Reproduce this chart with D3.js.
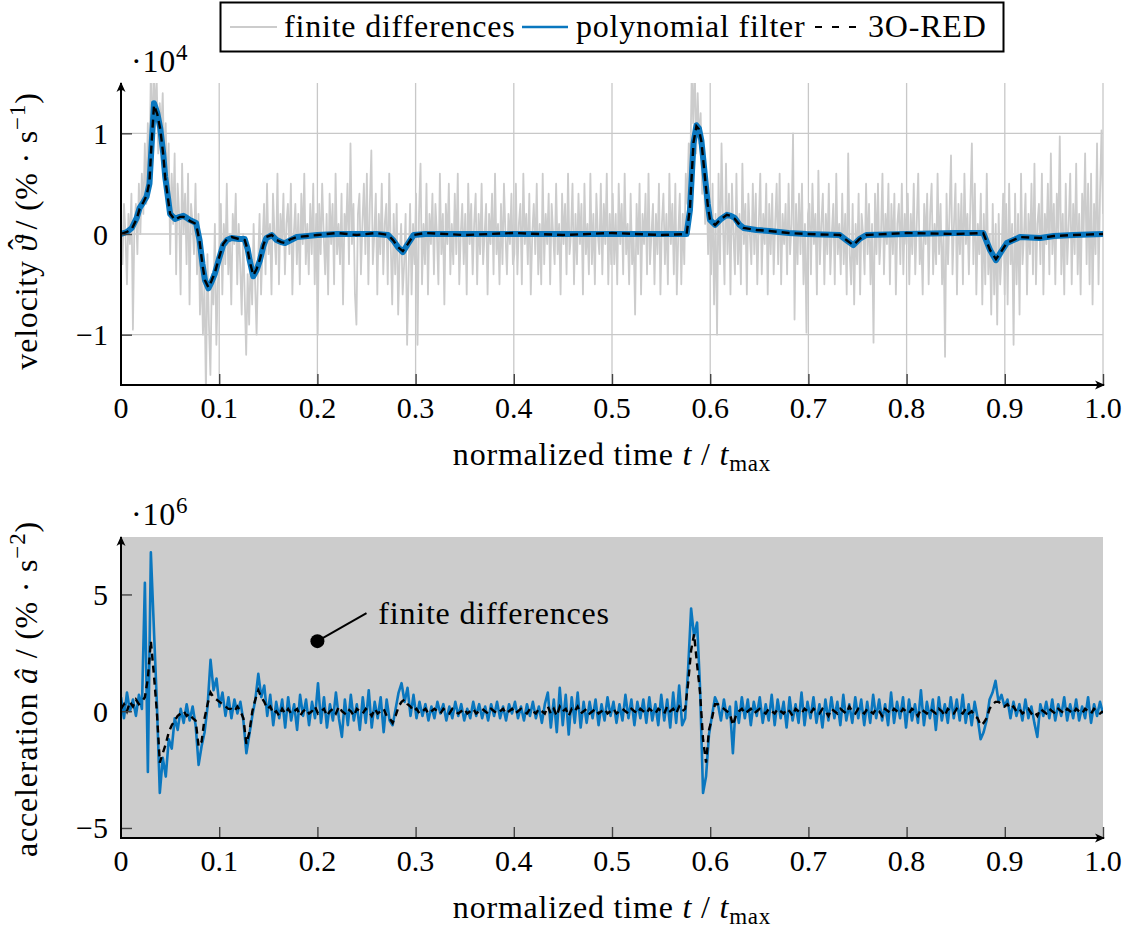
<!DOCTYPE html>
<html>
<head>
<meta charset="utf-8">
<script src="https://d3js.org/d3.v7.min.js"></script>
<style>
  body { margin: 0; background: #fff; }
  text { font-family: "Liberation Serif", "Times New Roman", serif; fill: #000; }
  .lbl { font-size: 32px; letter-spacing: 0.8px; }
  .tick-lbl { font-size: 30px; }
</style>
</head>
<body>
<div id="chart"></div>
<script>
// ---- data (velocity in 1e4 %/s, acceleration in 1e6 %/s^2) ----
// raw finite differences of velocity, evenly sampled over t = 0..1
var velFinite = [
  0.1,-0.3,0.3,0.0,-0.5,0.2,-0.1,0.4,-0.95,0.1,0.3,-0.2,0.5,0.0,
  0.6,0.2,0.9,0.3,1.1,0.5,
  1.6,0.9,1.7,1.2,1.5,0.8,1.3,1.0,1.4,0.7,1.1,
  0.4,0.9,-0.2,0.6,0.1,0.8,-0.4,0.5,0.2,-0.6,0.7,0.0,0.4,-0.3,0.6,-0.7,0.3,0.1,-0.2,0.5,
  -0.4,0.2,-0.8,-0.3,-1.0,-0.5,-1.6,-0.2,-0.9,-1.4,-0.4,-0.7,0.1,-1.1,-0.5,
  // 0.1 - 0.2
  -0.2,0.3,-0.6,0.1,-0.3,0.5,-0.4,0.0,-0.7,0.2,-0.1,0.4,-0.5,0.1,
  -0.3,-0.8,0.0,-0.6,-1.2,-0.4,-0.9,-0.2,-0.7,0.1,-0.5,-1.0,-0.3,0.2,-0.6,-0.1,
  0.3,-0.4,0.5,-0.2,0.1,-0.6,0.4,0.0,-0.3,0.6,-0.5,0.2,-0.1,0.4,-0.4,0.1,0.3,-0.2,0.5,-0.6,
  0.0,0.3,-0.3,0.2,-0.5,0.4,-0.1,0.6,-0.3,0.1,-0.4,0.3,-0.2,0.5,-0.5,0.2,
  // 0.2 - 0.3
  -1.0,0.3,-0.2,0.5,0.0,-0.4,0.2,-0.6,0.4,-0.1,
  0.3,-0.5,0.6,-0.2,0.1,-0.3,0.4,-0.7,0.2,0.0,
  0.5,-0.3,0.9,-0.1,0.3,-0.6,-0.9,0.2,0.4,-0.4,
  0.1,0.5,-0.2,0.6,-0.5,0.3,0.83,-0.3,0.0,0.4,
  -0.6,0.2,-0.2,0.5,-0.4,0.1,0.3,-0.5,0.6,-0.1,
  -0.7,0.2,-0.4,0.3,-0.8,-0.2,0.1,-0.6,-0.3,0.2,
  -1.1,-0.4,0.3,-0.6,0.1,-0.3,
  // 0.3 - 0.4
  0.4,-1.1,0.2,0.7,-0.5,0.1,-0.3,0.5,-0.6,0.2,
  -0.1,0.4,-0.4,0.3,0.0,-0.5,0.6,-0.2,0.2,-0.7,
  0.3,-0.1,0.5,-0.4,0.1,-0.3,0.4,-0.2,0.6,-0.5,
  0.0,0.3,-0.3,0.2,-0.6,0.5,-0.1,0.3,-0.4,0.1,
  0.4,-0.5,0.2,-0.2,0.5,-0.3,0.0,0.3,-0.6,0.2,
  -0.1,0.4,-0.4,0.6,-0.2,0.1,-0.5,0.3,-0.3,0.5,
  0.0,-0.4,0.2,-0.1,0.4,-0.3,
  // 0.4 - 0.5
  -0.2,0.5,-0.4,0.1,0.3,-0.5,0.6,-0.1,0.2,-0.3,
  0.4,-0.6,0.0,0.3,-0.2,0.5,-0.4,0.1,-0.5,0.6,
  -0.3,0.2,-0.1,0.4,-0.5,0.3,0.0,-0.3,0.5,-0.2,
  0.1,-0.6,0.4,-0.1,0.3,-0.4,0.6,-0.2,0.0,0.5,
  -0.5,0.2,-0.3,0.4,-0.1,0.3,-0.6,0.5,-0.2,0.1,
  -0.4,0.6,-0.3,0.2,-0.5,0.4,0.0,-0.2,0.5,-0.4,
  0.3,-0.1,0.6,-0.5,0.2,-0.3,
  // 0.5 - 0.6
  0.4,-0.3,0.2,-0.5,0.5,-0.1,0.3,-0.4,0.6,-0.2,
  0.1,-0.5,0.4,-0.3,0.0,-0.8,0.3,-0.2,0.5,-0.6,
  0.2,-0.1,0.4,-0.4,0.6,-0.3,0.0,0.3,-0.5,0.2,
  -0.2,0.5,-0.6,0.1,0.4,-0.3,0.2,-0.5,0.6,-0.1,
  0.3,-0.4,0.5,-0.6,0.0,0.4,-0.5,0.2,-0.3,0.6,
  0.3,0.9,0.6,1.6,1.1,1.7,0.8,1.4,0.9,1.2,0.4,0.8,0.1,0.5,-0.2,0.3,
  // 0.6 - 0.7
  -0.4,0.5,-0.7,0.2,-1.0,0.6,-0.3,0.9,0.1,-0.5,
  0.7,-0.2,0.4,-0.6,0.5,0.0,-0.4,0.6,-0.3,0.2,
  -0.5,0.7,-0.1,0.3,-0.6,0.4,0.0,-0.3,0.5,-0.2,
  0.4,-0.5,0.1,0.6,-0.4,0.2,-0.1,0.5,-0.6,0.3,
  -0.2,0.4,-0.4,0.1,0.5,-0.3,0.6,-0.5,0.2,-0.1,
  0.3,-0.4,0.5,-0.2,0.1,1.0,-0.85,0.3,-0.3,0.4,
  -0.2,0.5,-0.5,0.1,-0.98,0.2,
  // 0.7 - 0.8
  0.3,-0.4,0.5,-0.1,0.2,-0.6,0.63,-0.3,0.1,0.4,
  -0.5,0.2,-0.2,0.5,-0.4,0.0,0.3,-0.5,0.6,-0.2,
  0.1,-0.4,0.4,-0.3,0.2,-0.6,0.8,-0.2,-0.5,0.3,
  -0.7,0.1,-0.3,0.4,-0.6,0.2,0.0,-0.4,0.5,-0.2,
  0.3,-0.5,0.1,-1.08,0.4,-0.2,0.5,-0.3,0.0,0.6,
  -0.4,0.2,-0.1,0.5,-0.5,0.3,-0.2,0.4,-0.6,0.1,
  0.3,-0.3,0.5,-0.4,0.2,-0.1,
  // 0.8 - 0.9
  0.4,-0.5,0.2,-0.2,0.5,-0.4,0.1,0.6,-0.3,0.0,
  -0.6,0.3,-0.1,0.4,-0.5,0.2,0.5,-0.4,0.1,-0.3,
  0.6,-0.2,0.3,-0.5,0.0,-1.22,0.4,-0.3,0.2,0.78,
  -0.4,0.1,0.5,-0.6,0.3,-0.2,0.4,-0.5,0.6,-0.1,
  0.2,-0.4,0.3,0.9,-0.3,0.5,-0.6,0.1,-0.2,0.4,
  -0.7,0.2,-0.5,0.6,-0.4,0.0,-0.8,0.3,-0.6,0.1,
  -0.9,0.2,-0.5,-0.2,0.4,-0.6,
  // 0.9 - 1.0
  0.3,-0.7,0.5,-0.3,0.1,-1.1,0.4,-0.5,0.2,-0.8,
  0.6,-0.3,0.0,0.4,-0.6,0.2,-0.2,0.5,-0.4,0.7,
  -0.5,0.1,0.3,-0.3,0.6,-0.6,0.2,-0.1,0.5,-0.4,
  0.8,-0.2,0.3,-0.5,0.4,0.0,0.97,-0.4,0.2,-0.6,
  0.5,-0.3,0.1,0.6,-0.5,0.3,-0.2,0.7,-0.4,0.2,
  -0.6,0.4,0.0,0.8,-0.3,0.5,-0.5,0.6,-0.7,0.3,
  -0.2,0.9,-0.5,0.4,1.03,0.2
];

// filtered velocity: sample times and values
var velT = [0, 0.006, 0.011, 0.016, 0.019, 0.023, 0.026, 0.029, 0.031, 0.0336, 0.037, 0.040, 0.043, 0.045, 0.048, 0.050,
  0.055, 0.060, 0.0635, 0.067, 0.070, 0.0764, 0.080, 0.083, 0.0855, 0.089, 0.092, 0.0957, 0.100, 0.104, 0.108, 0.1127,
  0.120, 0.126, 0.129, 0.131, 0.1347, 0.138, 0.1415, 0.145, 0.148, 0.1535, 0.1585, 0.163, 0.167, 0.173, 0.179, 0.190,
  0.200, 0.220, 0.240, 0.260, 0.272, 0.277, 0.282, 0.287, 0.292, 0.298, 0.310, 0.350, 0.400, 0.450, 0.500, 0.550,
  0.576, 0.5794, 0.583, 0.586, 0.5885, 0.591, 0.5947, 0.5975, 0.5998, 0.605, 0.611, 0.617, 0.621, 0.625, 0.630, 0.634,
  0.647, 0.660, 0.680, 0.698, 0.732, 0.740, 0.7457, 0.752, 0.759, 0.800, 0.850, 0.878, 0.885, 0.891, 0.896, 0.902,
  0.9155, 0.936, 0.950, 0.970, 1.0];
var velPoly = [0, 0.02, 0.06, 0.16, 0.26, 0.32, 0.37, 0.5, 0.85, 1.30, 1.2, 1.05, 0.8, 0.57, 0.35, 0.2,
  0.15, 0.17, 0.18, 0.16, 0.14, 0.11, -0.06, -0.3, -0.46, -0.54, -0.48, -0.39, -0.24, -0.11, -0.06, -0.04,
  -0.05, -0.05, -0.15, -0.26, -0.42, -0.36, -0.26, -0.12, -0.04, -0.01, -0.06, -0.08, -0.09, -0.06, -0.03, -0.02,
  -0.01, 0, 0, 0, -0.01, -0.06, -0.13, -0.18, -0.1, -0.01, 0, 0, 0, 0, 0, 0,
  0, 0.24, 0.9, 1.08, 1.05, 0.93, 0.57, 0.3, 0.14, 0.09, 0.15, 0.19, 0.18, 0.16, 0.09, 0.06,
  0.04, 0.03, 0.01, 0, -0.01, -0.07, -0.11, -0.05, -0.01, 0, 0.01, 0.01, -0.16, -0.26, -0.18, -0.09,
  -0.03, -0.04, -0.02, -0.01, 0];
var velRed = [0, 0.02, 0.05, 0.15, 0.25, 0.32, 0.38, 0.52, 0.88, 1.28, 1.19, 1.04, 0.79, 0.56, 0.34, 0.2,
  0.14, 0.17, 0.17, 0.16, 0.13, 0.1, -0.07, -0.31, -0.46, -0.53, -0.47, -0.38, -0.23, -0.1, -0.05, -0.03,
  -0.05, -0.06, -0.16, -0.27, -0.41, -0.35, -0.25, -0.11, -0.03, -0.01, -0.06, -0.08, -0.09, -0.05, -0.03, -0.02,
  -0.01, 0.01, -0.01, 0.01, -0.01, -0.06, -0.13, -0.17, -0.1, -0.01, 0.01, -0.01, 0.01, -0.01, 0.01, -0.01,
  0, 0.26, 0.91, 1.07, 1.04, 0.92, 0.56, 0.29, 0.14, 0.09, 0.15, 0.19, 0.18, 0.15, 0.09, 0.06,
  0.04, 0.03, 0.01, 0, -0.01, -0.07, -0.11, -0.05, -0.01, 0.01, 0, 0.01, -0.16, -0.25, -0.18, -0.09,
  -0.03, -0.04, -0.02, -0.01, 0];

// acceleration, polynomial filter, evenly sampled over t = 0..1
var accPoly = [
  0.6, -0.3, 0.8, 0.0, 0.5, -0.2, 0.7, 0.1,
  5.5, -2.6, 6.8, 3.6, 0.4, -3.5, -2.0, -2.8,
  -1.2, -1.6, -0.3, -0.8, 0.1, -0.5, 0.3, -0.4,
  0.2, -0.6, -2.3, -1.5, -0.9, 0.2, 2.2, 0.9,
  1.4, 0.2, 0.8, -0.2, 0.6, -0.3, 0.5, -0.1,
  0.4, -0.4, -1.8, -1.0, -0.2, 0.5, 1.6, 0.6,
  1.1, -0.2, 0.7, -0.6, 0.4, -0.3, 0.5, -0.7,
  0.6, -0.4, 0.3, -0.8, 0.7, -0.2, 0.5, -0.6, 0.4, -0.3, 1.2, -0.5, 0.6, -0.7, 0.3, -0.4, 0.8, -0.3, -1.1, 0.5,
  -0.6, 0.7, -0.4, 0.3, -0.8, 0.6, -0.5, 0.9, -0.7, 0.4, -0.3, 0.6, -0.9, 0.5, -0.4, -0.6, 0.1, 0.8, 1.2, 0.4, 1.0, -0.2, 0.7,
  -0.3, 0.4, -0.2, 0.3, -0.4, 0.2, -0.3, 0.4, -0.1, 0.3, -0.4, 0.2, -0.3, 0.4, -0.2, 0.3, -0.4, 0.1, -0.3, 0.4, -0.2, 0.3,
  -0.3, 0.2, -0.4, 0.3, -0.2, 0.4, -0.3, 0.2, -0.4, 0.3, -0.1, 0.4, -0.3, 0.2, -0.4, 0.3, -0.2, 0.4, -0.3, 0.2, -0.5, 0.3,
  0.8, -0.7, 0.5, -0.9, 1.0, -0.6, 0.7, -1.0, 0.6, -0.5, 0.8, -0.7, 0.4,
  -0.5, 0.4, -0.3, 0.5, -0.6, 0.3, -0.4, 0.6, -0.2, 0.4, -0.5, 0.3, -0.4, 0.7, -0.3, 0.5, -0.6, 0.4, -0.3, 0.5,
  -0.5, 0.6, -0.4, 0.3, -0.6, 0.7, -0.4, 0.5, -0.7, 0.8, -0.5, 1.1, -0.6,
  -0.3, 1.8, 4.4, 3.2, 3.8, 1.0, -3.5, -2.8, -1.0, -0.2, 0.6,
  0.3, -0.4, 0.5, -0.3, 0.2, -1.8, 0.4, -0.5, 0.6, -0.3,
  0.5, -0.6, 0.4, -0.2, 0.6, -0.5, 0.3, -0.4, 0.7, -0.6,
  0.5, -0.3, 0.4, -0.7, 0.6, -0.4, 0.3, -0.5, 0.8, -0.6,
  0.4, -0.3, 0.6, -0.5, 0.3, -0.7, 0.5, -0.4, 0.6, -0.3,
  0.4, -0.6, 0.7, -0.4, 0.3, -0.5, 0.6, -0.3, 0.5, -0.6,
  0.4, -0.5, 0.7, -0.3, 0.5, -0.4, 0.3, -0.6, 0.8, -0.5,
  0.4, -0.3, 0.6, -0.7, 0.5, -0.4, 0.3, -0.5, 0.9, -0.6,
  0.4, -0.3, 0.5, -0.8, 0.6, -0.4, 0.3, -0.5, 0.6, -0.3,
  0.5, -0.4, 0.7, -0.5, 0.3, -0.6, 0.4, -0.3, -1.2, -0.9,
  -0.4, 0.5, 0.8, 1.3, 0.4, 0.7, 0.2, 0.5, -0.3, 0.4,
  -0.2, 0.3, -0.4, 0.5, -0.3, 0.2, -0.5, -1.1, 0.3, -0.2,
  0.4, -0.3, 0.5, -0.4, 0.3, -0.2, 0.6, -0.4, 0.3, -0.3,
  0.5, -0.4, 0.2, -0.3, 0.6, -0.5, 0.3, -0.2, 0.4, -0.1
];

// acceleration, 3O-RED, evenly sampled over t = 0..1
var accRed = [
  0.1, 0.3, 0.0, 0.4, 0.2, 0.5, 0.3, 0.4,
  0.6, 1.4, 3.0, 1.6, 0.0, -2.2, -1.8, -1.4,
  -0.9, -0.6, -0.4, -0.2, -0.1, 0.0, -0.2, -0.1,
  -0.3, -0.4, -1.5, -1.3, -0.3, 0.3, 0.8, 0.6,
  0.5, 0.4, 0.3, 0.2, 0.1, 0.1, 0.0, 0.2,
  0.0, -0.3, -1.4, -0.9, 0.0, 0.5, 0.9, 0.6,
  0.4, 0.1, 0.2, -0.1, 0.0, -0.2, 0.1, -0.1,
  0.1, -0.1, 0.0, 0.1, -0.2, 0.0, 0.1, -0.1, 0.0, 0.2, -0.1, 0.0, 0.1, -0.2, 0.0, 0.1, -0.1, 0.2, 0.0, -0.1,
  0.1, 0.0, -0.2, 0.1, 0.0, -0.1, 0.1, 0.0, -0.2, 0.1, -0.1, 0.0, 0.1, -0.2, -0.3, -0.5, -0.2, 0.2, 0.4, 0.5, 0.3, 0.2, 0.0,
  0.1, -0.1, 0.0, 0.1, -0.1, 0.0, 0.1, 0.0, -0.1, 0.1, 0.0, -0.1, 0.1, 0.0, -0.1, 0.0, 0.1, -0.1, 0.0, 0.1, -0.1, 0.0,
  0.1, 0.0, -0.1, 0.1, 0.0, -0.1, 0.0, 0.1, -0.1, 0.0, 0.1, -0.1, 0.0, 0.1, 0.0, -0.1, 0.1, 0.0, -0.1, 0.1, 0.0, -0.1,
  0.2, -0.1, 0.1, -0.2, 0.2, 0.0, 0.1, -0.2, 0.1, 0.0, 0.2, -0.1, 0.0,
  0.1, -0.1, 0.0, 0.1, -0.1, 0.0, 0.1, -0.1, 0.0, 0.1, -0.1, 0.0, 0.1, 0.0, -0.1, 0.1, 0.0, -0.1, 0.1, 0.0,
  -0.1, 0.1, 0.0, -0.1, 0.1, 0.0, -0.1, 0.2, 0.0, 0.1, -0.1, 0.2, 0.0,
  0.1, 1.2, 2.6, 3.3, 2.0, 0.8, -1.2, -2.2, -0.8, -0.3, 0.3,
  0.3, 0.2, 0.1, 0.0, -0.1, -0.6, -0.2, 0.0, 0.1, -0.1,
  0.0, 0.1, -0.1, 0.0, 0.1, 0.0, -0.1, 0.1, 0.0, -0.1,
  0.1, 0.0, -0.1, 0.1, 0.0, -0.2, 0.1, 0.0, -0.1, 0.1,
  0.0, -0.1, 0.1, 0.0, -0.1, 0.1, 0.0, -0.2, 0.1, 0.0,
  -0.1, 0.1, 0.0, -0.1, 0.2, 0.0, -0.1, 0.1, 0.0, -0.1,
  0.1, 0.0, -0.1, 0.1, 0.0, -0.2, 0.1, 0.0, -0.1, 0.1,
  0.0, -0.1, 0.1, 0.0, -0.1, 0.1, 0.0, -0.2, 0.1, 0.0,
  -0.1, 0.1, 0.0, -0.1, 0.1, 0.0, -0.2, 0.1, 0.0, -0.1,
  0.1, 0.0, -0.1, 0.1, -0.1, 0.0, -0.2, -0.3, -0.6, -0.5,
  -0.3, 0.1, 0.3, 0.4, 0.4, 0.3, 0.2, 0.3, 0.1, 0.2,
  0.0, 0.1, -0.1, 0.0, 0.1, -0.1, 0.0, -0.2, 0.1, 0.0,
  -0.1, 0.1, 0.0, -0.1, 0.1, 0.0, -0.1, 0.1, 0.0, -0.1,
  0.1, 0.0, -0.1, 0.1, 0.0, -0.1, 0.1, 0.0, -0.1, 0.0
];

var xTicks = [0, 0.1, 0.2, 0.3, 0.4, 0.5, 0.6, 0.7, 0.8, 0.9, 1.0];
var xTickLabels = ["0", "0.1", "0.2", "0.3", "0.4", "0.5", "0.6", "0.7", "0.8", "0.9", "1.0"];
var velTicks = [-1, 0, 1];
var accTicks = [-5, 0, 5];
var legendNames = ["finite differences", "polynomial filter", "3O-RED"];

// ---- styles ----
var cGray = "#cccccc", cBlue = "#0a77bf", cGrid = "#c8c8c8";
var width = 1137, height = 931;

var svg = d3.select("#chart").append("svg")
  .attr("width", width).attr("height", height);

var defs = svg.append("defs");
defs.append("marker").attr("id", "arrow")
  .attr("viewBox", "0 0 10 10").attr("refX", 9).attr("refY", 5)
  .attr("markerWidth", 10).attr("markerHeight", 10)
  .attr("markerUnits", "userSpaceOnUse").attr("orient", "auto")
  .append("path").attr("d", "M0,0.5 Q4,5 0,9.5 L10,5 Z").attr("fill", "#000");

var x = d3.scaleLinear().domain([0, 1]).range([121, 1103]);
var yV = d3.scaleLinear().domain([-1.5, 1.5]).range([385, 83]);
var yA = d3.scaleLinear().domain([-5.43, 7.46]).range([838, 537]);

function clip(id, ys) {
  defs.append("clipPath").attr("id", id).append("rect")
    .attr("x", x(0)).attr("y", ys.range()[1])
    .attr("width", x(1) - x(0)).attr("height", ys.range()[0] - ys.range()[1]);
}
clip("clipV", yV);
clip("clipA", yA);

function evenLine(ys) {
  return d3.line()
    .x(function(d, i, arr) { return x(i / (arr.length - 1)); })
    .y(function(d) { return ys(d); });
}

// ================= top panel: velocity =================
var gV = svg.append("g");

// grid
gV.selectAll(".vgrid").data(xTicks.slice(1)).enter().append("line")
  .attr("x1", function(d) { return x(d); }).attr("x2", function(d) { return x(d); })
  .attr("y1", yV.range()[0]).attr("y2", yV.range()[1])
  .attr("stroke", cGrid).attr("stroke-width", 1.3);
gV.selectAll(".hgrid").data(velTicks).enter().append("line")
  .attr("x1", x(0)).attr("x2", x(1))
  .attr("y1", function(d) { return yV(d); }).attr("y2", function(d) { return yV(d); })
  .attr("stroke", cGrid).attr("stroke-width", 1.3);

var dV = gV.append("g").attr("clip-path", "url(#clipV)");
dV.append("path").datum(velFinite)
  .attr("d", evenLine(yV))
  .attr("fill", "none").attr("stroke", cGray).attr("stroke-width", 1.8)
  .attr("stroke-linejoin", "round");

var smoothLine = function(vals) {
  return d3.line()
    .x(function(d, i) { return x(velT[i]); })
    .y(function(d) { return yV(d); })(vals);
};
dV.append("path").attr("d", smoothLine(velPoly))
  .attr("fill", "none").attr("stroke", cBlue).attr("stroke-width", 6)
  .attr("stroke-linejoin", "round").attr("stroke-linecap", "round");
dV.append("path").attr("d", smoothLine(velRed))
  .attr("fill", "none").attr("stroke", "#000").attr("stroke-width", 2.4)
  .attr("stroke-dasharray", "8,5");

function axes(g, ys, ticks, yAx) {
  // y ticks
  g.append("g").attr("transform", "translate(" + x(0) + ",0)")
    .call(d3.axisRight(ys).tickValues(ticks).tickSize(11).tickFormat(""))
    .call(function(a) {
      a.select(".domain").remove();
      a.selectAll(".tick line").attr("stroke", "#444").attr("stroke-width", 1.4);
    });
  g.selectAll(".ylab").data(ticks).enter().append("text")
    .attr("class", "tick-lbl")
    .attr("x", 108).attr("y", function(d) { return ys(d); })
    .attr("dy", "0.35em").attr("text-anchor", "end")
    .text(function(d) { return d < 0 ? "\u2212" + Math.abs(d) : d; });
  // x ticks
  g.append("g").attr("transform", "translate(0," + yAx + ")")
    .call(d3.axisTop(x).tickValues(xTicks.slice(1)).tickSize(11).tickFormat(""))
    .call(function(a) {
      a.select(".domain").remove();
      a.selectAll(".tick line").attr("stroke", "#444").attr("stroke-width", 1.4);
    });
  g.selectAll(".xlab").data(xTicks).enter().append("text")
    .attr("class", "tick-lbl")
    .attr("x", function(d) { return x(d); }).attr("y", yAx + 33)
    .attr("text-anchor", "middle")
    .text(function(d, i) { return xTickLabels[i]; });
  // axis lines with arrows
  g.append("line").attr("x1", x(0)).attr("x2", x(0))
    .attr("y1", yAx + 1).attr("y2", ys.range()[1])
    .attr("stroke", "#000").attr("stroke-width", 2).attr("marker-end", "url(#arrow)");
  g.append("line").attr("x1", x(0) - 1).attr("x2", x(1) + 1)
    .attr("y1", yAx).attr("y2", yAx)
    .attr("stroke", "#000").attr("stroke-width", 2).attr("marker-end", "url(#arrow)");
  // x label
  var t = g.append("text").attr("class", "lbl").attr("x", 612).attr("y", yAx + 80)
    .attr("text-anchor", "middle");
  t.append("tspan").text("normalized time ");
  t.append("tspan").style("font-style", "italic").text("t");
  t.append("tspan").text(" / ");
  t.append("tspan").style("font-style", "italic").text("t");
  t.append("tspan").attr("dy", 6).style("font-size", "23px").text("max");
}

axes(gV, yV, velTicks, 385);

function yLabel(g, cy, word, sym, hat, pow) {
  var t = g.append("text").attr("class", "lbl")
    .attr("transform", "translate(37," + cy + ") rotate(-90)")
    .attr("text-anchor", "middle");
  t.append("tspan").text(word + " ");
  t.append("tspan").style("font-style", "italic").text(sym);
  if (hat) {
    t.append("tspan").attr("dx", -15).attr("dy", -7).text("\u02c6");
    t.append("tspan").attr("dy", 7).text(" / (% \u00b7 s");
  } else {
    t.append("tspan").text(" / (% \u00b7 s");
  }
  t.append("tspan").attr("dy", -12).style("font-size", "23px").text("\u2212" + pow);
  t.append("tspan").attr("dy", 12).text(")");
}
yLabel(gV, 231, "velocity", "\u03d1", true, 1);

function scaleNote(g, yb, pow) {
  var t = g.append("text").attr("class", "lbl").attr("x", 131).attr("y", yb);
  t.append("tspan").text("\u00b710");
  t.append("tspan").attr("dy", -12).style("font-size", "23px").text(pow);
}
scaleNote(gV, 72, "4");

// legend
var lg = svg.append("g");
lg.append("rect").attr("x", 220.5).attr("y", 2.5).attr("width", 783).attr("height", 49)
  .attr("fill", "#fff").attr("stroke", "#000").attr("stroke-width", 2);
var legItems = [
  { x0: 230, x1: 277, tx: 284, stroke: cGray, w: 2, dash: null },
  { x0: 522, x1: 568, tx: 576, stroke: cBlue, w: 2.5, dash: null },
  { x0: 815, x1: 860, tx: 868, stroke: "#000", w: 2, dash: "7,10" }
];
legItems.forEach(function(it, i) {
  lg.append("line").attr("x1", it.x0).attr("x2", it.x1).attr("y1", 27).attr("y2", 27)
    .attr("stroke", it.stroke).attr("stroke-width", it.w)
    .attr("stroke-dasharray", it.dash);
  lg.append("text").attr("class", "lbl").attr("x", it.tx).attr("y", 37)
    .text(legendNames[i]);
});

// ================= bottom panel: acceleration =================
var gA = svg.append("g");
// finite differences of acceleration fill the whole visible range
gA.append("rect").attr("x", x(0)).attr("y", yA(7.46))
  .attr("width", x(1) - x(0)).attr("height", yA(-5.43) - yA(7.46))
  .attr("fill", cGray);

var dA = gA.append("g").attr("clip-path", "url(#clipA)");
dA.append("path").datum(accPoly).attr("d", evenLine(yA))
  .attr("fill", "none").attr("stroke", cBlue).attr("stroke-width", 2.6)
  .attr("stroke-linejoin", "round");
dA.append("path").datum(accRed).attr("d", evenLine(yA))
  .attr("fill", "none").attr("stroke", "#000").attr("stroke-width", 2.4)
  .attr("stroke-dasharray", "7,5");

axes(gA, yA, accTicks, 838);
yLabel(gA, 689, "acceleration", "a\u0302", false, 2);
scaleNote(gA, 525, "6");

// annotation
gA.append("circle").attr("cx", x(0.2)).attr("cy", yA(3.0)).attr("r", 7).attr("fill", "#000");
gA.append("line").attr("x1", x(0.2)).attr("y1", yA(3.0))
  .attr("x2", x(0.25)).attr("y2", yA(4.2))
  .attr("stroke", "#000").attr("stroke-width", 2);
gA.append("text").attr("class", "lbl").attr("x", x(0.262)).attr("y", yA(3.75))
  .text("finite differences");
</script>
</body>
</html>
